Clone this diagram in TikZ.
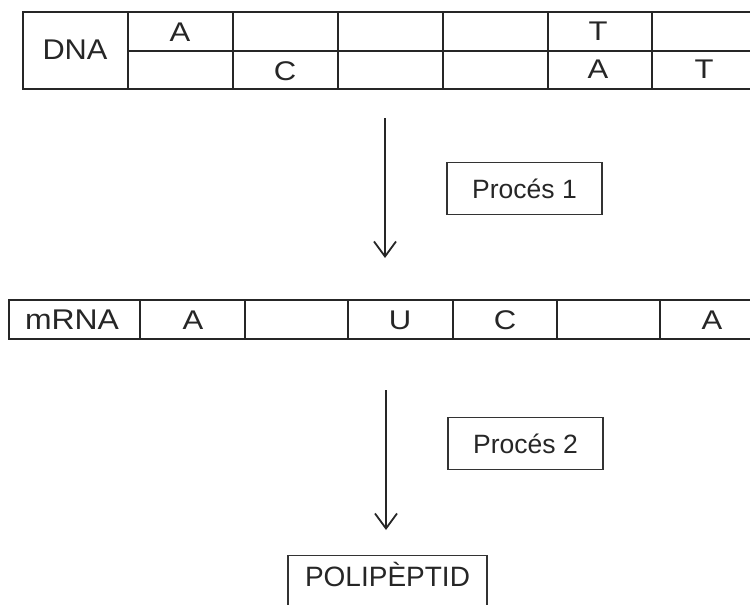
\documentclass[tikz,border=0pt]{standalone}
\usepackage{fontspec}
\setmainfont{Liberation Sans}
\usetikzlibrary{arrows.meta}
\begin{document}
\begin{tikzpicture}[x=1pt,y=-1pt,
  grid/.style={line width=1.8pt,draw=black!85},
  boxline/.style={line width=1.3pt,draw=black!80},
  base/.style={font=\fontsize{27}{27}\selectfont,text=black!85,xscale=1.15,inner sep=0pt},
  lbl/.style={font=\fontsize{28.5}{28.5}\selectfont,text=black!85,inner sep=0pt},
  proc/.style={boxline,minimum width=155pt,minimum height=52pt,font=\fontsize{26.5}{26.5}\selectfont,text=black!85},
  flow/.style={line width=1.8pt,draw=black!85,-{Straight Barb[length=15pt,width=22pt,line width=1.8pt]}}]
\useasboundingbox (0,0) rectangle (750,605);
% DNA table
\draw[grid] (23,12) rectangle (770,89);
\draw[grid] (128,51) -- (770,51);
\foreach \x in {128,233,338,443,548,652,757} \draw[grid] (\x,12) -- (\x,89);
\node[lbl,xscale=1.08] (dna) at (75,50) {DNA};
\node[base] (d1) at (180,32) {A};
\node[base] (d2) at (285,71) {C};
\node[base] (d3) at (598,31) {T};
\node[base] (d4) at (598,69) {A};
\node[base] (d5) at (704,69) {T};
% mRNA table
\draw[grid] (9,300) rectangle (770,339);
\foreach \x in {140,245,348,453,557,660} \draw[grid] (\x,300) -- (\x,339);
\node[lbl,xscale=1.12] (mrna) at (72,320) {mRNA};
\node[base] (m1) at (193,320) {A};
\node[base] (m2) at (400,320) {U};
\node[base] (m3) at (505,320) {C};
\node[base] (m4) at (712,320) {A};
% process boxes
\node[proc] (p1) at (524.5,188.5) {Procés 1};
\node[proc] (p2) at (525.5,443.5) {Procés 2};
\node[boxline,draw,anchor=north,minimum width=199pt,inner ysep=11pt,text height=20pt,text depth=22pt,
      font=\fontsize{28}{28}\selectfont,text=black!85] (poli) at (387.5,555) {POLIPÈPTID};
% arrows
\coordinate (a1s) at (385,118);
\coordinate (a1e) at (385,258);
\coordinate (a2s) at (386,390);
\coordinate (a2e) at (386,530);
\draw[flow] (a1s) -- (a1e);
\draw[flow] (a2s) -- (a2e);
\end{tikzpicture}
\end{document}
